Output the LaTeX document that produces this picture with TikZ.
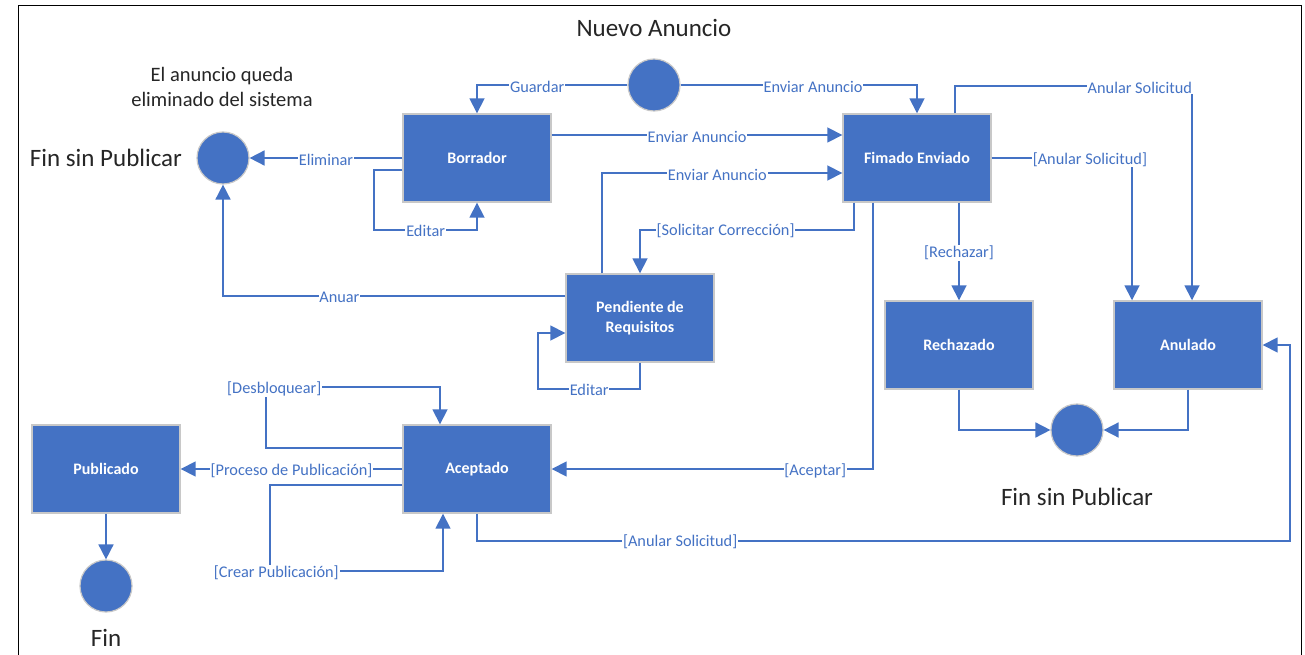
\documentclass[tikz,border=0pt]{standalone}
\usepackage{fontspec}
\setmainfont{Carlito}
\usetikzlibrary{arrows.meta}
\definecolor{ublue}{HTML}{4472C4}
\definecolor{ugray}{HTML}{C8C8C8}
\definecolor{utext}{HTML}{262626}
\tikzset{
  x=1pt, y=-1pt,
  state/.style={draw=ugray, line width=1.4pt, fill=ublue, minimum width=148pt, minimum height=88pt, inner sep=2pt, text=white, font=\fontsize{16}{20}\selectfont\bfseries, align=center},
  dot/.style={circle, draw=ugray, line width=1.2pt, fill=ublue, minimum size=52pt, inner sep=0pt},
  conn/.style={draw=ublue, line width=1.7pt, -{Triangle[length=15pt,width=15pt]}},
  lbl/.style={fill=white, text=ublue, inner sep=0.8pt, yshift=-1.5pt, font=\fontsize{16.3}{18}\selectfont},
  big/.style={text=utext, font=\fontsize{25}{28}\selectfont},
  note/.style={text=utext, font=\fontsize{20.5}{25}\selectfont, align=center}
}
\begin{document}
\begin{tikzpicture}
\useasboundingbox (0,0) rectangle (1305,655);
\fill[white] (0,0) rectangle (1305,655);
\draw[black, line width=1.4pt] (18.5,655) -- (18.5,5.5) -- (1301.5,5.5) -- (1301.5,655);

% nodes
\node[dot] (start) at (654,85) {};
\node[state] (borr) at (477,158) {Borrador};
\node[state] (fim) at (917,158) {Fimado Enviado};
\node[state] (pend) at (640,318) {Pendiente de\\Requisitos};
\node[state] (acep) at (477,469) {Aceptado};
\node[state] (publ) at (106,469) {Publicado};
\node[state] (rech) at (959,345) {Rechazado};
\node[state] (anul) at (1188,345) {Anulado};
\node[dot] (endL) at (223,158) {};
\node[dot] (endR) at (1077,430) {};
\node[dot] (endF) at (106,586) {};

\node[big] (tNuevo) at (654,28) {Nuevo Anuncio};
\node[note] (tElim) at (222,87) {El anuncio queda\\eliminado del sistema};
\node[big] (tFinL) at (106,158) {Fin sin Publicar};
\node[big] (tFinR) at (1077,497) {Fin sin Publicar};
\node[big] (tFin) at (106,638) {Fin};

% connectors
\draw[conn] (start.west) -| node[lbl, pos=0.3] {Guardar} (borr.north);
\draw[conn] (start.east) -| node[lbl, pos=0.28] {Enviar Anuncio} (fim.north);
\draw[conn] ([yshift=23pt]borr.east) -- node[lbl] {Enviar Anuncio} ([yshift=23pt]fim.west);
\draw[conn] ([xshift=-38pt]pend.north) |- node[lbl, pos=0.74] {Enviar Anuncio} ([yshift=-15pt]fim.west);
\draw[conn] ([xshift=-63pt]fim.south) -- ++(0,27) -| node[lbl, pos=0.3] {[Solicitar Corrección]} (pend.north);
\draw[conn] (borr.west) -- node[lbl] {Eliminar} (endL.east);
\draw[conn] ([yshift=-12pt]borr.west) -- ++(-28,0) |- node[lbl, pos=0.75] {Editar} ([yshift=-27pt]borr.south) -- (borr.south);
\draw[conn] ([yshift=22pt]pend.west) -| node[lbl, pos=0.33] {Anuar} (endL.south);
\draw[conn] (pend.south) -- ++(0,26) -| node[lbl, pos=0.25] {Editar} ([xshift=-27pt,yshift=-15pt]pend.west) -- ([yshift=-15pt]pend.west);
\draw[conn] ([xshift=-44pt]fim.south) |- node[lbl, pos=0.59] {[Aceptar]} (acep.east);
\draw[conn] (fim.south -| rech.north) -- node[lbl] {[Rechazar]} (rech.north);
\draw[conn] (fim.east) -| node[lbl, pos=0.35] {[Anular Solicitud]} ([xshift=-56pt]anul.north);
\draw[conn] ([xshift=38pt]fim.north) -- ++(0,-27) -| node[lbl, pos=0.39] {Anular Solicitud} ([xshift=4pt]anul.north);
\draw[conn] (rech.south) |- (endR.west);
\draw[conn] (anul.south) |- (endR.east);
\draw[conn] (acep.south) -- ++(0,27) -| node[lbl, pos=0.125] {[Anular Solicitud]} ([xshift=27pt]anul.east) -- (anul.east);
\draw[conn] (acep.west) -- node[lbl] {[Proceso de Publicación]} (publ.east);
\draw[conn] ([yshift=21pt]acep.west) -| ++(-136,-61) node[lbl, xshift=8pt] {[Desbloquear]} -| ([xshift=-37pt]acep.north);
\draw[conn] ([yshift=-16pt]acep.west) -| ++(-132,86) node[lbl, xshift=6pt] {[Crear Publicación]} -| ([xshift=-34pt]acep.south);
\draw[conn] (publ.south) -- (endF.north);
\end{tikzpicture}
\end{document}
